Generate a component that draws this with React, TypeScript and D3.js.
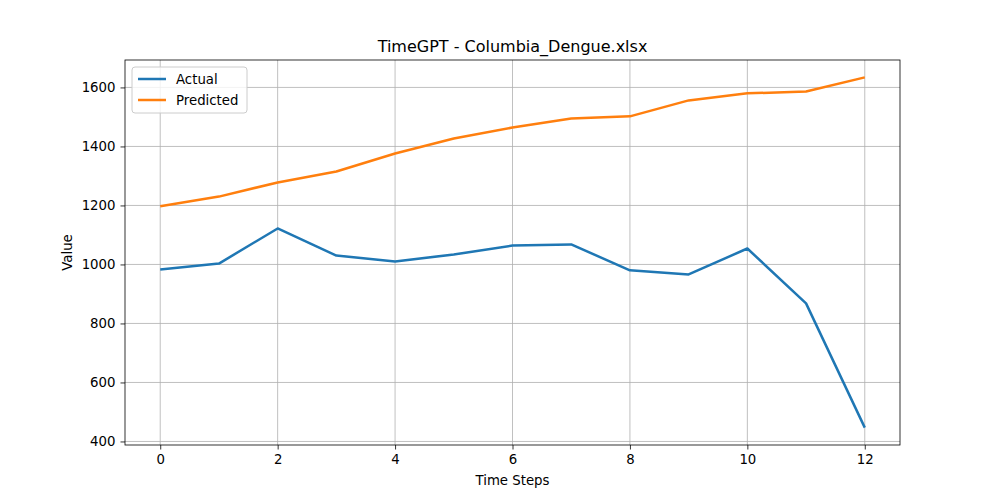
import React, { useEffect, useRef } from 'react';
import * as d3 from 'd3';

const steps = [0, 1, 2, 3, 4, 5, 6, 7, 8, 9, 10, 11, 12];
const actual = [983, 1003, 1122, 1030, 1010, 1034, 1064, 1068, 980, 966, 1054, 868, 447];
const predicted = [1197, 1230, 1278, 1315, 1376, 1427, 1464, 1495, 1502, 1556, 1580, 1586, 1634];
const xTicks = [0, 2, 4, 6, 8, 10, 12];
const yTicks = [400, 600, 800, 1000, 1200, 1400, 1600];

const W = 1000, H = 500;
const m = { left: 125, right: 900, top: 60, bottom: 445 };

export default function App() {
  const ref = useRef<SVGSVGElement>(null);

  useEffect(() => {
    const svg = d3.select(ref.current);
    svg.selectAll('*').remove();
    const font = 'DejaVu Sans, sans-serif';

    const x = d3.scaleLinear().domain([-0.6, 12.6]).range([m.left, m.right]);
    const y = d3.scaleLinear().domain([388, 1693]).range([m.bottom, m.top]);

    svg.append('rect').attr('width', W).attr('height', H).attr('fill', '#fff');

    const grid = svg.append('g').attr('stroke', '#b0b0b0').attr('stroke-width', 0.8);
    xTicks.forEach(t => grid.append('line').attr('x1', x(t)).attr('x2', x(t)).attr('y1', m.top).attr('y2', m.bottom));
    yTicks.forEach(t => grid.append('line').attr('y1', y(t)).attr('y2', y(t)).attr('x1', m.left).attr('x2', m.right));

    const line = d3.line<number>().x((d, i) => x(steps[i])).y(d => y(d));
    svg.append('path').datum(actual).attr('d', line).attr('fill', 'none')
      .attr('stroke', '#1f77b4').attr('stroke-width', 2.5).attr('stroke-linejoin', 'round');
    svg.append('path').datum(predicted).attr('d', line).attr('fill', 'none')
      .attr('stroke', '#ff7f0e').attr('stroke-width', 2.5).attr('stroke-linejoin', 'round');

    const xa = svg.append('g').attr('transform', `translate(0,${m.bottom})`)
      .call(d3.axisBottom(x).tickValues(xTicks).tickSize(4.5).tickPadding(5).tickFormat(d3.format('d')));
    const ya = svg.append('g').attr('transform', `translate(${m.left},0)`)
      .call(d3.axisLeft(y).tickValues(yTicks).tickSize(4.5).tickPadding(5).tickFormat(d3.format('d')));
    [xa, ya].forEach(a => {
      a.select('.domain').remove();
      a.selectAll('text').attr('font-family', font).attr('font-size', 13.3).attr('fill', '#000');
      a.selectAll('line').attr('stroke', '#000').attr('stroke-width', 0.8);
    });

    svg.append('rect').attr('x', m.left).attr('y', m.top).attr('width', m.right - m.left)
      .attr('height', m.bottom - m.top).attr('fill', 'none').attr('stroke', '#000').attr('stroke-width', 0.8);

    svg.append('text').attr('x', (m.left + m.right) / 2).attr('y', 52).attr('text-anchor', 'middle')
      .attr('font-family', font).attr('font-size', 16).text('TimeGPT - Columbia_Dengue.xlsx');
    svg.append('text').attr('x', (m.left + m.right) / 2).attr('y', 485).attr('text-anchor', 'middle')
      .attr('font-family', font).attr('font-size', 13.3).text('Time Steps');
    svg.append('text').attr('transform', `translate(72,${(m.top + m.bottom) / 2}) rotate(-90)`)
      .attr('text-anchor', 'middle').attr('font-family', font).attr('font-size', 13.3).text('Value');

    const lg = svg.append('g').attr('transform', 'translate(132,67)');
    lg.append('rect').attr('width', 115).attr('height', 46).attr('rx', 3).attr('fill', '#fff')
      .attr('fill-opacity', 0.8).attr('stroke', '#ccc');
    [['Actual', '#1f77b4'], ['Predicted', '#ff7f0e']].forEach(([name, c], i) => {
      const yy = 12 + i * 21;
      lg.append('line').attr('x1', 6).attr('x2', 34).attr('y1', yy).attr('y2', yy)
        .attr('stroke', c).attr('stroke-width', 2.5);
      lg.append('text').attr('x', 44).attr('y', yy + 5).attr('font-family', font)
        .attr('font-size', 13.3).text(name);
    });
  }, []);

  return <svg ref={ref} width={W} height={H} style={{ position: 'absolute', left: 0, top: 0 }} />;
}
